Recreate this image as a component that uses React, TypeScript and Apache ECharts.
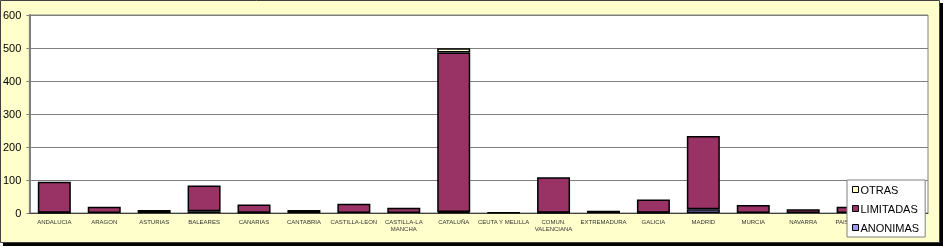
import React, { useEffect, useRef } from "react";
import * as echarts from "echarts";

const categories = [
  "ANDALUCIA", "ARAGON", "ASTURIAS", "BALEARES", "CANARIAS", "CANTABRIA",
  "CASTILLA-LEON", "CASTILLA-LA\nMANCHA", "CATALUÑA", "CEUTA Y MELILLA",
  "COMUN.\nVALENCIANA", "EXTREMADURA", "GALICIA", "MADRID", "MURCIA",
  "NAVARRA", "PAIS VASCO", "LA RIOJA",
];
const anonimas = [1, 0, 0, 5, 1, 0, 0, 0, 3, 0, 1, 0, 1, 11, 0, 0, 0, 0];
const limitadas = [94, 19, 9, 78, 25, 9, 28, 16, 483, 1, 107, 7, 40, 222, 24, 11, 19, 5];
const otras = [0, 0, 0, 0, 0, 0, 0, 0, 13, 0, 0, 0, 0, 0, 0, 0, 0, 0];
const yTicks = { min: 0, max: 600, interval: 100 };

const FONT = "'Liberation Sans', Arial, sans-serif";
const nz = (arr: number[]) => arr.map((v) => (v === 0 ? null : v));

export default function App() {
  const ref = useRef<HTMLDivElement>(null);
  useEffect(() => {
    if (!ref.current) return;
    const chart = echarts.init(ref.current, null, { renderer: "svg" });
    const barStyle = (color: string) => ({
      color,
      borderColor: "#000",
      borderWidth: 1.5,
    });
    chart.setOption({
      animation: false,
      textStyle: { fontFamily: FONT },
      graphic: [
        { type: "rect", z: -10, shape: { x: 3, y: 3, width: 940, height: 243 }, style: { fill: "#000" }, silent: true },
        { type: "rect", z: -9, shape: { x: 0.5, y: 0.5, width: 939, height: 242 }, style: { fill: "#FFFFCC", stroke: "#404040", lineWidth: 1 }, silent: true },
      ],
      grid: {
        left: 29,
        top: 15,
        right: 16,
        bottom: 34,
        show: true,
        backgroundColor: "#FFFFFF",
        borderColor: "#808080",
        borderWidth: 1,
        z: 0,
      },
      legend: {
        orient: "vertical",
        left: 847,
        top: 180,
        width: 73,
        height: 60,
        padding: [4, 6, 4, 5],
        itemGap: 8,
        itemWidth: 6,
        itemHeight: 6,
        icon: "rect",
        backgroundColor: "#FFFFFF",
        borderColor: "#808080",
        borderWidth: 1,
        data: ["OTRAS", "LIMITADAS", "ANONIMAS"],
        textStyle: { fontSize: 11, color: "#000", fontFamily: FONT, padding: [0, 0, 0, -3] },
        itemStyle: { borderColor: "#000", borderWidth: 1 },
      },
      xAxis: {
        type: "category",
        data: categories,
        axisLine: { show: true, lineStyle: { color: "#404040", width: 1 } },
        axisTick: { show: false },
        axisLabel: {
          interval: 0,
          fontSize: 6,
          color: "#333",
          margin: 5,
          lineHeight: 7,
          fontFamily: FONT,
        },
      },
      yAxis: {
        type: "value",
        ...yTicks,
        axisLine: { show: true, lineStyle: { color: "#808080", width: 2 } },
        axisTick: { show: true, length: 3, lineStyle: { color: "#808080" } },
        axisLabel: { fontSize: 11, color: "#000", margin: 8, fontFamily: FONT },
        splitLine: { show: true, lineStyle: { color: "#808080", width: 1 } },
      },
      series: [
        { name: "ANONIMAS", type: "bar", stack: "t", data: nz(anonimas), barWidth: 33, itemStyle: barStyle("#9999FF") },
        { name: "LIMITADAS", type: "bar", stack: "t", data: nz(limitadas), barWidth: 33, itemStyle: barStyle("#993366") },
        { name: "OTRAS", type: "bar", stack: "t", data: nz(otras), barWidth: 33, itemStyle: barStyle("#FFFFCC") },
      ],
    });
    return () => chart.dispose();
  }, []);
  return (
    <div style={{ position: "fixed", left: 0, top: 0, width: 944, height: 247 }}>
      <div ref={ref} style={{ width: 944, height: 247 }} />
    </div>
  );
}
